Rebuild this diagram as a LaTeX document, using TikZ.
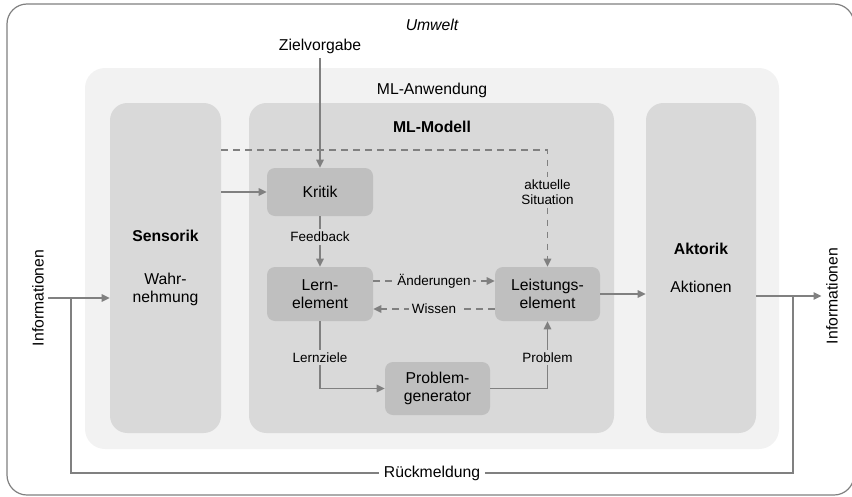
\documentclass[tikz,border=0pt]{standalone}
\usepackage{fontspec}
\setmainfont{Liberation Sans}
\usetikzlibrary{arrows.meta,positioning}

\definecolor{rahmengrau}{HTML}{808080}
\definecolor{anwgrau}{HTML}{F2F2F2}
\definecolor{spaltegrau}{HTML}{D9D9D9}
\definecolor{elemgrau}{HTML}{BFBFBF}
\definecolor{pfeilgrau}{HTML}{808080}

\newcommand{\gross}{\fontsize{11.8}{13.6}\selectfont}
\newcommand{\klein}{\fontsize{10.1}{11.6}\selectfont}

\begin{document}
\begin{tikzpicture}[x=0.75pt, y=-0.75pt, font=\gross,
  rahmen/.style={draw=rahmengrau, line width=0.9pt, rounded corners=15pt, inner sep=0pt},
  anwendung/.style={fill=anwgrau, rounded corners=15pt, inner sep=0pt},
  spalte/.style={fill=spaltegrau, rounded corners=13pt, inner sep=0pt, align=center,
                 minimum height=247.5pt},
  element/.style={fill=elemgrau, rounded corners=6pt, inner sep=0pt, align=center,
                  minimum width=79.5pt, minimum height=40.5pt},
  lbl/.style={font=\klein, align=center, fill=spaltegrau, inner sep=2pt},
  linie/.style={draw=pfeilgrau, line width=1.2pt},
  pfeil/.style={linie, -{Triangle[length=6pt,width=5.5pt]}},
  gestrichelt/.style={pfeil, dash pattern=on 5pt off 4pt}]
   \useasboundingbox (0,0) rectangle (852,496);
   % Umwelt und Anwendung
   \node[rahmen, minimum width=635.25pt, minimum height=368.25pt] (umwelt) at (430.5,249.5) {};
   \node[font=\gross\itshape] (umweltlbl) at (432,25) {Umwelt};
   \node[anwendung, minimum width=520.5pt, minimum height=285.75pt] (anwendung) at (432,258.5) {};
   \node (anwlbl) at (432,90) {ML-Anwendung};
   % Spalten
   \node[spalte, minimum width=83.25pt] (sensorik) at (165.5,268) {\textbf{Sensorik}\\[19pt]Wahr-\\nehmung};
   \node[spalte, minimum width=273.75pt] (modell) at (431.5,268) {};
   \node[font=\gross\bfseries] (modelllbl) at (432,127) {ML-Modell};
   \node[spalte, minimum width=82.5pt] (aktorik) at (701,268) {\textbf{Aktorik}\\[15pt]Aktionen};
   % Elemente im Modell
   \node[element, minimum height=36pt] (kritik) at (320,192) {Kritik};
   \node[element] (lern) at (320,294) {Lern-\\element};
   \node[element, minimum width=78.75pt] (leist) at (547.5,294) {Leistungs-\\element};
   \node[element, minimum width=78.75pt, minimum height=39.75pt] (prob) at (437.5,388.5) {Problem-\\generator};
   % Texte aussen
   \node (ziel) at (320,46) {Zielvorgabe};
   \node[rotate=90] (infoL) at (38,298) {Informationen};
   \node[rotate=90] (infoR) at (832,296) {Informationen};
   \node (rueck) at (432,473) {Rückmeldung};
   \coordinate (situation) at (221,150);
   \coordinate (fbL) at (71,298);
   \coordinate (fbR) at (793,296);
   % Verbindungen
   \draw[pfeil] (ziel) -- (kritik);
   \draw[pfeil] (sensorik.east |- kritik) -- (kritik);
   \draw[gestrichelt] (situation) -| node[lbl, pos=0.68] {aktuelle\\Situation} (leist);
   \draw[pfeil] (kritik) -- node[lbl, pos=0.41] {Feedback} (lern);
   \draw[gestrichelt] ([yshift=9.75pt]lern.east) -- node[lbl] {Änderungen} ([yshift=9.75pt]leist.west);
   \draw[gestrichelt] ([yshift=-11.25pt]leist.west) -- node[lbl] {Wissen} ([yshift=-11.25pt]lern.east);
   \draw[pfeil] (lern) |- node[lbl, pos=0.27] {Lernziele} (prob);
   \draw[pfeil] (prob) -| node[lbl, pos=0.73] {Problem} (leist);
   \draw[pfeil] (leist) -- (leist -| aktorik.west);
   \draw[pfeil] (infoL.south) -- (infoL.south -| sensorik.west);
   \draw[pfeil] (aktorik.east |- infoR) -- (infoR.north);
   \draw[linie] (fbL) |- (rueck.west);
   \draw[linie] (rueck.east) -| (fbR);
\end{tikzpicture}
\end{document}
